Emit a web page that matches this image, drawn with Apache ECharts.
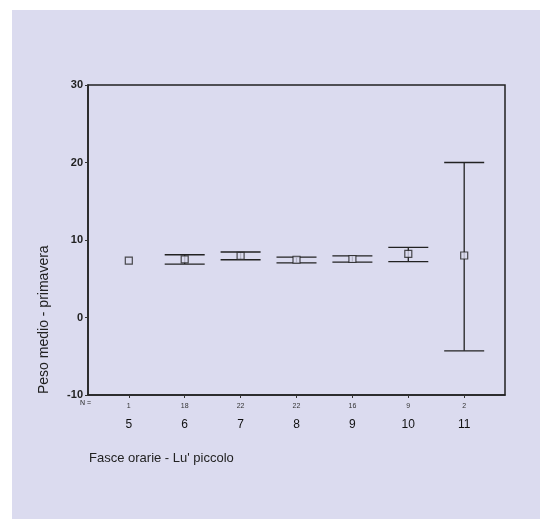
<!DOCTYPE html>
<html>
<head>
<meta charset="utf-8">
<script src="https://cdn.jsdelivr.net/npm/echarts@6/dist/echarts.min.js"></script>
<style>
  html, body { margin: 0; padding: 0; background: #fff; }
  #chart { width: 544px; height: 519px; }
</style>
</head>
<body>
<div id="chart"></div>
<script>
// fasce orarie (x), numerosita', media e intervallo di confidenza
var fasce = [5, 6, 7, 8, 9, 10, 11];
var nCasi = [1, 18, 22, 22, 16, 9, 2];
var medie = [7.35, 7.5, 7.95, 7.45, 7.55, 8.2, 8.0];
var limInf = [null, 6.9, 7.45, 7.05, 7.15, 7.2, -4.3];
var limSup = [null, 8.1, 8.45, 7.8, 7.95, 9.05, 20.0];
var yTicks = [-10, 0, 10, 20, 30];

var chart = echarts.init(document.getElementById('chart'));

var puntiMedi = fasce.map(function (f, i) { return [f, medie[i]]; });
var barre = [];
fasce.forEach(function (f, i) {
    if (limInf[i] !== null) {
        barre.push([f, limInf[i], limSup[i]]);
    }
});

var option = {
    backgroundColor: '#ffffff',
    animation: false,
    textStyle: { fontFamily: 'Liberation Sans', color: '#111' },
    grid: {
        left: 88, top: 85, right: 39, bottom: 124,
        show: true,
        borderColor: '#222',
        borderWidth: 1.5,
        backgroundColor: 'transparent'
    },
    graphic: [
        {
            type: 'rect', z: -10, silent: true,
            shape: { x: 12, y: 10, width: 528, height: 509 },
            style: { fill: '#dbdbef' }
        },
        {
            type: 'text', left: 80, top: 400,
            style: { text: 'N =', fontSize: 7, fill: '#222', fontFamily: 'Liberation Sans' }
        },
        {
            type: 'text', left: 89, top: 452,
            style: { text: "Fasce orarie - Lu' piccolo", fontSize: 13, fill: '#222', fontFamily: 'Liberation Sans' }
        },
        {
            type: 'text', x: 37, y: 394, rotation: Math.PI / 2,
            style: { text: 'Peso medio - primavera', fontSize: 14, fill: '#222', fontFamily: 'Liberation Sans' }
        }
    ],
    xAxis: {
        type: 'value',
        min: 4.27,
        max: 11.73,
        splitLine: { show: false },
        axisLine: { onZero: false, lineStyle: { color: '#222', width: 1.5 } },
        axisTick: { customValues: fasce, length: 3, lineStyle: { color: '#333' } },
        axisLabel: {
            customValues: fasce,
            margin: 5,
            formatter: function (v) {
                var i = fasce.indexOf(Math.round(v));
                return '{n|' + nCasi[i] + '}\n{c|' + Math.round(v) + '}';
            },
            rich: {
                n: { fontSize: 7, lineHeight: 12, color: '#333' },
                c: { fontSize: 12, lineHeight: 26, color: '#111' }
            }
        }
    },
    yAxis: {
        type: 'value',
        min: -10,
        max: 30,
        interval: 10,
        splitLine: { show: false },
        axisLine: { show: true, onZero: false, lineStyle: { color: '#222', width: 1.5 } },
        axisTick: { show: true, length: 3, lineStyle: { color: '#333' } },
        axisLabel: {
            margin: 5,
            fontSize: 11,
            fontWeight: 'bold',
            color: '#222',
            customValues: yTicks
        }
    },
    series: [
        {
            type: 'custom',
            data: barre,
            z: 2,
            renderItem: function (params, api) {
                var x = api.value(0);
                var lo = api.coord([x, api.value(1)]);
                var hi = api.coord([x, api.value(2)]);
                var w = 20;
                var st = { stroke: '#222', lineWidth: 1.3 };
                return {
                    type: 'group',
                    children: [
                        { type: 'line', shape: { x1: lo[0], y1: lo[1], x2: hi[0], y2: hi[1] }, style: st },
                        { type: 'line', shape: { x1: lo[0] - w, y1: lo[1], x2: lo[0] + w, y2: lo[1] }, style: st },
                        { type: 'line', shape: { x1: hi[0] - w, y1: hi[1], x2: hi[0] + w, y2: hi[1] }, style: st }
                    ]
                };
            }
        },
        {
            type: 'scatter',
            data: puntiMedi,
            symbol: 'rect',
            symbolSize: 7,
            z: 3,
            itemStyle: { color: '#dbdbef', borderColor: '#222', borderWidth: 1.2 }
        }
    ]
};

chart.setOption(option);
</script>
</body>
</html>
